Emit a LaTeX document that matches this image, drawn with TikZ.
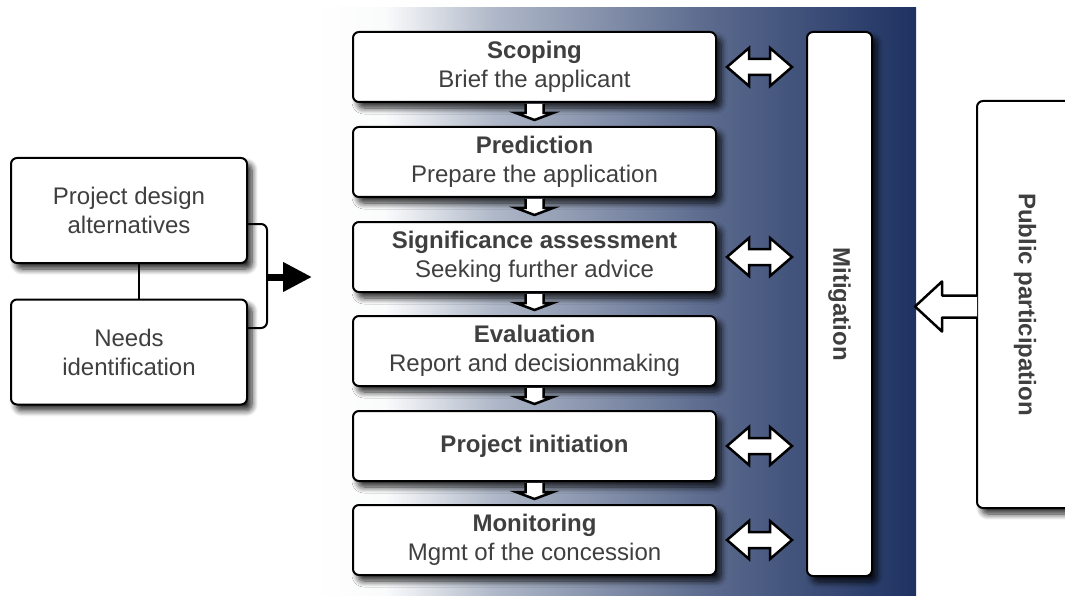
\documentclass[tikz,border=0pt]{standalone}
\usepackage{fontspec}
\setmainfont{Liberation Sans}
\usetikzlibrary{calc,arrows.meta,shadows.blur}
\definecolor{txt}{HTML}{3F3F3F}
\definecolor{navy}{RGB}{30,50,98}
\definecolor{pA}{RGB}{175,184,200}
\definecolor{pB}{RGB}{92,107,142}
\pgfdeclarehorizontalshading{panelshade}{100bp}{color(0bp)=(white); color(25bp)=(white); color(31bp)=(white!94!pA); color(40bp)=(pA); color(57.5bp)=(pB); color(75bp)=(navy); color(100bp)=(navy)}
\newcommand\hdblarrow[2]{%
  \draw[hollow] let \p1=#1, \p2=#2 in
    (\x1,\y1) -- ++(22pt,19pt) -- ++(0,-11pt) -- (\x2-22pt,\y1+8pt) -- ++(0,11pt)
    -- (\x2,\y1) -- ++(-22pt,-19pt) -- ++(0,11pt) -- (\x1+22pt,\y1-8pt) -- ++(0,-11pt) -- cycle;}
\newcommand\vdnarrow[1]{%
  \draw[hollow] let \p1=(#1.south) in
    (\x1-9pt,\y1-1pt) -- (\x1-9pt,\y1-10pt) -- (\x1-18.5pt,\y1-10pt) -- (\x1,\y1-17pt)
    -- (\x1+18.5pt,\y1-10pt) -- (\x1+9pt,\y1-10pt) -- (\x1+9pt,\y1-1pt);}
\begin{document}
\begin{tikzpicture}[x=1pt,y=-1pt,
  boxfont/.style={font=\fontsize{24}{29}\selectfont},
  box/.style={draw=black, line width=2pt, rounded corners=6pt, fill=white, text=txt,
    align=center, inner sep=0pt, boxfont,
    blur shadow={shadow xshift=5pt, shadow yshift=-6pt, shadow blur radius=6pt,
      shadow blur steps=8, shadow opacity=85}},
  mainbox/.style={box, minimum width=363pt, minimum height=70pt},
  sidebox/.style={box, minimum width=236pt, minimum height=105pt},
  conn/.style={draw=black, line width=2pt},
  hollow/.style={draw=black, fill=white, line width=2.5pt, line join=miter},
  vlabel/.style={rotate=-90, text=txt, boxfont, font=\fontsize{24}{29}\selectfont\bfseries},
]
\useasboundingbox (0,0) rectangle (1065,596);
\fill[shading=panelshade] (313,8) rectangle (916,596);

% main column
\node[mainbox] (s1) at (534.5,67)  {\textbf{Scoping}\\Brief the applicant};
\node[mainbox] (s2) at (534.5,162) {\textbf{Prediction}\\Prepare the application};
\node[mainbox] (s3) at (534.5,257) {\textbf{Significance assessment}\\Seeking further advice};
\node[mainbox] (s4) at (534.5,351) {\textbf{Evaluation}\\Report and decisionmaking};
\node[mainbox] (s5) at (534.5,446) {\textbf{Project initiation}};
\node[mainbox] (s6) at (534.5,540) {\textbf{Monitoring}\\Mgmt of the concession};

% mitigation
\node[box, minimum width=65pt, minimum height=544pt,
  label={[vlabel]center:Mitigation}] (mit) at (839.5,304) {};

% public participation
\node[box, minimum width=96pt, minimum height=407pt,
  label={[vlabel]center:Public participation}] (pp) at (1025,304.5) {};

% left boxes
\node[sidebox] (l1) at (129,210.5) {Project design\\alternatives};
\node[sidebox] (l2) at (129,352) {Needs\\identification};

% down arrows
\vdnarrow{s1}
\vdnarrow{s2}
\vdnarrow{s3}
\vdnarrow{s4}
\vdnarrow{s5}

% double arrows
\hdblarrow{($(s1.east)+(10,0)$)}{($(mit.west|-s1.east)+(-14,0)$)}
\hdblarrow{($(s3.east)+(10,0)$)}{($(mit.west|-s3.east)+(-14,0)$)}
\hdblarrow{($(s5.east)+(10,0)$)}{($(mit.west|-s5.east)+(-14,0)$)}
\hdblarrow{($(s6.east)+(10,0)$)}{($(mit.west|-s6.east)+(-14,0)$)}

% public participation arrow
\draw[hollow, line join=round] let \p1=(pp.west) in
  (\x1+1pt,\y1+9pt) -- (\x1-34pt,\y1+9pt) -- (\x1-34pt,\y1+23pt) -- (\x1-61pt,\y1-2pt)
  -- (\x1-34pt,\y1-27pt) -- (\x1-34pt,\y1-13pt) -- (\x1+1pt,\y1-13pt);

% left connectors
\draw[conn] ([xshift=10pt]l1.south) -- ([xshift=10pt]l2.north);
\coordinate (bt) at (267,224);
\coordinate (bb) at (267,328);
\draw[conn, rounded corners=6pt] (l1.east |- bt) -- (bt) -- (bb) -- (l2.east |- bb);
\coordinate (am) at (267,277);
\coordinate (at) at (312,277);
\draw[line width=7pt, -{Triangle[length=29pt,width=28pt]}] (am) -- (at);
\end{tikzpicture}
\end{document}
